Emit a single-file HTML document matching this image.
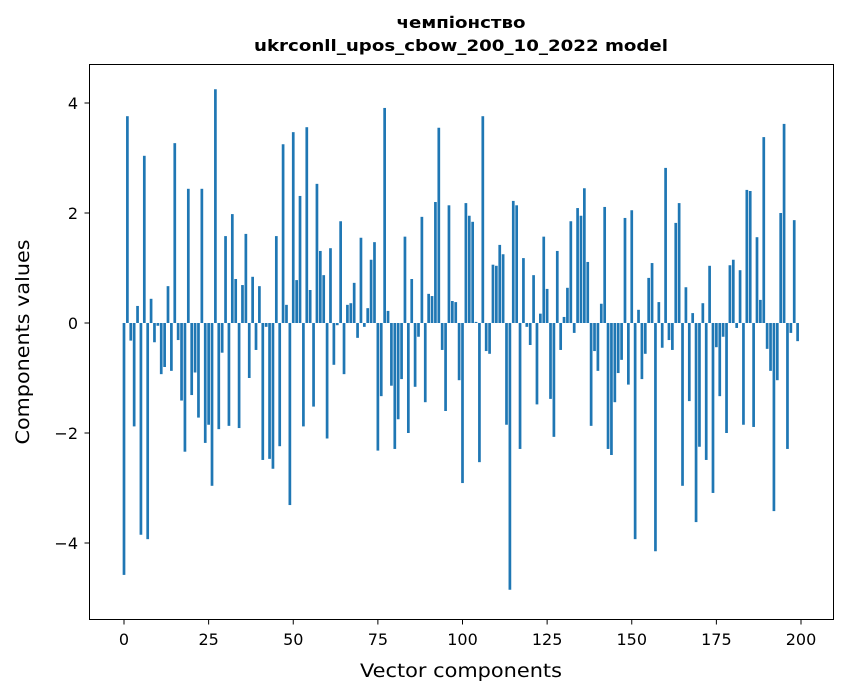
<!DOCTYPE html>
<html><head><meta charset="utf-8"><style>
body{margin:0;background:#fff;font-family:"DejaVu Sans","Liberation Sans",sans-serif}
svg text{font-family:"DejaVu Sans","Liberation Sans",sans-serif;fill:#000}
</style></head><body>
<svg id="chart" width="847" height="696" xmlns="http://www.w3.org/2000/svg">
<rect width="847" height="696" fill="#fff"/>
<text x="461" y="28" text-anchor="middle" font-size="16" font-weight="bold" textLength="129" lengthAdjust="spacingAndGlyphs">чемпіонство</text>
<text x="461" y="51" text-anchor="middle" font-size="16" font-weight="bold" textLength="414" lengthAdjust="spacingAndGlyphs">ukrconll_upos_cbow_200_10_2022 model</text>
<g id="bars"></g>
<g id="axes"></g>
<rect x="89.5" y="64.5" width="744" height="555" fill="none" stroke="#000" stroke-width="1"/>
<text x="461" y="677" text-anchor="middle" font-size="19" textLength="202" lengthAdjust="spacingAndGlyphs">Vector components</text>
<text transform="translate(29,342) rotate(-90)" text-anchor="middle" font-size="19" textLength="205" lengthAdjust="spacingAndGlyphs">Components values</text>
</svg>
<script>
const values = [-4.58,3.76,-0.32,-1.88,0.31,-3.85,3.04,-3.93,0.44,-0.35,
-0.05,-0.93,-0.8,0.67,-0.87,3.27,-0.31,-1.41,-2.34,2.44,
-1.31,-0.9,-1.72,2.44,-2.18,-1.85,-2.96,4.25,-1.93,-0.54,
1.58,-1.87,1.98,0.8,-1.91,0.69,1.62,-1.0,0.84,-0.49,
0.67,-2.49,-0.07,-2.47,-2.65,1.58,-2.24,3.25,0.33,-3.31,
3.47,0.78,2.31,-1.88,3.56,0.6,-1.52,2.53,1.31,0.87,
-2.1,1.36,-0.76,-0.04,1.85,-0.93,0.33,0.36,0.73,-0.27,
1.55,-0.07,0.27,1.15,1.47,-2.32,-1.33,3.91,0.22,-1.14,
-2.29,-1.75,-1.02,1.57,-2.0,0.8,-1.16,-0.25,1.93,-1.44,
0.53,0.49,2.2,3.55,-0.49,-1.6,2.14,0.4,0.38,-1.04,
-2.91,2.18,1.95,1.84,0.02,-2.53,3.76,-0.51,-0.56,1.06,
1.04,1.42,1.25,-1.85,-4.85,2.22,2.14,-2.29,1.18,-0.07,
-0.4,0.87,-1.48,0.17,1.57,0.62,-1.38,-2.07,1.31,-0.49,
0.11,0.64,1.85,-0.18,2.09,1.95,2.45,1.11,-1.87,-0.51,
-0.87,0.35,2.11,-2.29,-2.4,-1.44,-0.91,-0.67,1.91,-1.12,
2.05,-3.93,0.24,-1.02,-0.56,0.82,1.09,-4.15,0.38,-0.45,
2.82,-0.31,-0.49,1.82,2.18,-2.96,0.65,-1.42,0.18,-3.62,
-2.25,0.36,-2.49,1.04,-3.09,-0.44,-1.33,-0.25,-2.0,1.05,
1.15,-0.09,0.96,-1.85,2.42,2.4,-1.89,1.56,0.42,3.38,
-0.47,-0.87,-3.42,-1.04,2.0,3.62,-2.29,-0.18,1.87,-0.33];
const xTicks = [0,25,50,75,100,125,150,175,200];
const yTicks = [-4,-2,0,2,4];
const yTickLabels = ["\u22124","\u22122","0","2","4"];

const NS="http://www.w3.org/2000/svg";
function xs(v){return 124+(v)*3.385;}
function ys(v){return 323-v*55;}
const barsG=document.getElementById('bars');
values.forEach((v,i)=>{
  const r=document.createElementNS(NS,'rect');
  
  
  const x0=xs(i-0.4), x1=xs(i+0.4);
  const y0=Math.min(ys(v),ys(0)), y1=Math.max(ys(v),ys(0));
  r.setAttribute('x',x0);r.setAttribute('width',x1-x0);
  r.setAttribute('y',y0);r.setAttribute('height',Math.max(y1-y0,0.3));
  r.setAttribute('fill','#1f77b4');
  barsG.appendChild(r);
});
const axG=document.getElementById('axes');
xTicks.forEach(t=>{
  const l=document.createElementNS(NS,'line');
  
  
  l.setAttribute('x1',xs(t));l.setAttribute('x2',xs(t));l.setAttribute('y1',619.5);l.setAttribute('y2',624.5);l.setAttribute('stroke','#000');
  axG.appendChild(l);
  const tx=document.createElementNS(NS,'text');
  
  
  tx.setAttribute('x',xs(t));tx.setAttribute('y',645);tx.setAttribute('text-anchor','middle');tx.setAttribute('font-size','16');
  tx.textContent=t;axG.appendChild(tx);
});
yTicks.forEach((t,i)=>{
  const l=document.createElementNS(NS,'line');
  
  
  l.setAttribute('x1',84.5);l.setAttribute('x2',89.5);l.setAttribute('y1',ys(t));l.setAttribute('y2',ys(t));l.setAttribute('stroke','#000');
  axG.appendChild(l);
  const tx=document.createElementNS(NS,'text');
  
  
  tx.setAttribute('x',78);tx.setAttribute('y',ys(t)+6);tx.setAttribute('text-anchor','end');tx.setAttribute('font-size','16');
  tx.textContent=yTickLabels[i];axG.appendChild(tx);
});
</script>
</body></html>
